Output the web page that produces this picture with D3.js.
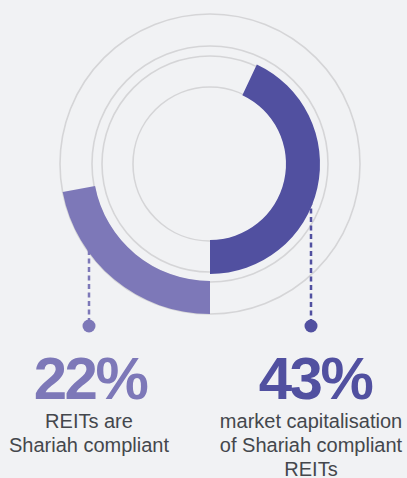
<!DOCTYPE html>
<html>
<head>
<meta charset="utf-8">
<style>
  html, body { margin: 0; padding: 0; background: #f1f2f4; }
  svg { display: block; }
</style>
</head>
<body>
<svg width="407" height="478"></svg>
<script src="https://d3js.org/d3.v7.min.js"></script>
<script>
// data
var labels = ["REITs are Shariah compliant", "market capitalisation of Shariah compliant REITs"];
var values = [22, 43];
var textLines = [["REITs are", "Shariah compliant"], ["market capitalisation", "of Shariah compliant", "REITs"]];
var colors = ["#7d78b8", "#5150a0"];
var guideRings = [150, 118, 108, 77];

var svg = d3.select("svg"),
    cx = 210, cy = 164;

var angle = d3.scaleLinear().domain([0, 100]).range([0, 2 * Math.PI]);

// ring band for each series: [inner, outer]
var bands = [[117, 150], [76, 110]];

var g = svg.append("g").attr("transform", "translate(" + cx + "," + cy + ")");

g.selectAll("circle.ring")
  .data(guideRings)
  .enter().append("circle")
    .attr("class", "ring")
    .attr("r", function(d) { return d; })
    .attr("fill", "none")
    .attr("stroke", "#d5d5d7")
    .attr("stroke-width", 1.6);

// leader lines + dots (behind the arcs)
var leaderX = [89, 311];
var leaderTop = [250, 200];
var dotY = 326;

svg.selectAll("line.leader")
  .data(values)
  .enter().append("line")
    .attr("class", "leader")
    .attr("x1", function(d, i) { return leaderX[i]; })
    .attr("x2", function(d, i) { return leaderX[i]; })
    .attr("y1", function(d, i) { return leaderTop[i]; })
    .attr("y2", dotY)
    .attr("stroke", function(d, i) { return colors[i]; })
    .attr("stroke-width", 2.5)
    .attr("stroke-dasharray", "5,3.5");

svg.selectAll("circle.dot")
  .data(values)
  .enter().append("circle")
    .attr("class", "dot")
    .attr("cx", function(d, i) { return leaderX[i]; })
    .attr("cy", dotY)
    .attr("r", 6.5)
    .attr("fill", function(d, i) { return colors[i]; });

// arcs: 22% runs clockwise from the bottom, 43% runs counter-clockwise up from the bottom
var arc = d3.arc();
g.selectAll("path.val")
  .data(values)
  .enter().append("path")
    .attr("class", "val")
    .attr("fill", function(d, i) { return colors[i]; })
    .attr("d", function(d, i) {
      var start = Math.PI;
      var end = i === 0 ? Math.PI + angle(d) : Math.PI - angle(d);
      return arc({
        innerRadius: bands[i][0],
        outerRadius: bands[i][1],
        startAngle: Math.min(start, end),
        endAngle: Math.max(start, end)
      });
    });

// big numbers
var textX = [90, 315];
svg.selectAll("text.big")
  .data(values)
  .enter().append("text")
    .attr("class", "big")
    .attr("x", function(d, i) { return textX[i]; })
    .attr("y", 399)
    .attr("text-anchor", "middle")
    .attr("font-family", "Liberation Sans, Arial, sans-serif")
    .attr("font-weight", "bold")
    .attr("font-size", 60)
    .attr("letter-spacing", -2.5)
    .attr("fill", function(d, i) { return colors[i]; })
    .text(function(d) { return d + "%"; });

// descriptions
var descX = [89, 311];
textLines.forEach(function(lines, i) {
  var t = svg.append("text")
    .attr("text-anchor", "middle")
    .attr("font-family", "Liberation Sans, Arial, sans-serif")
    .attr("font-size", 20)
    .attr("fill", "#44474c");
  lines.forEach(function(line, j) {
    t.append("tspan")
      .attr("x", descX[i])
      .attr("y", 428 + j * 24)
      .text(line);
  });
});
</script>
</body>
</html>
